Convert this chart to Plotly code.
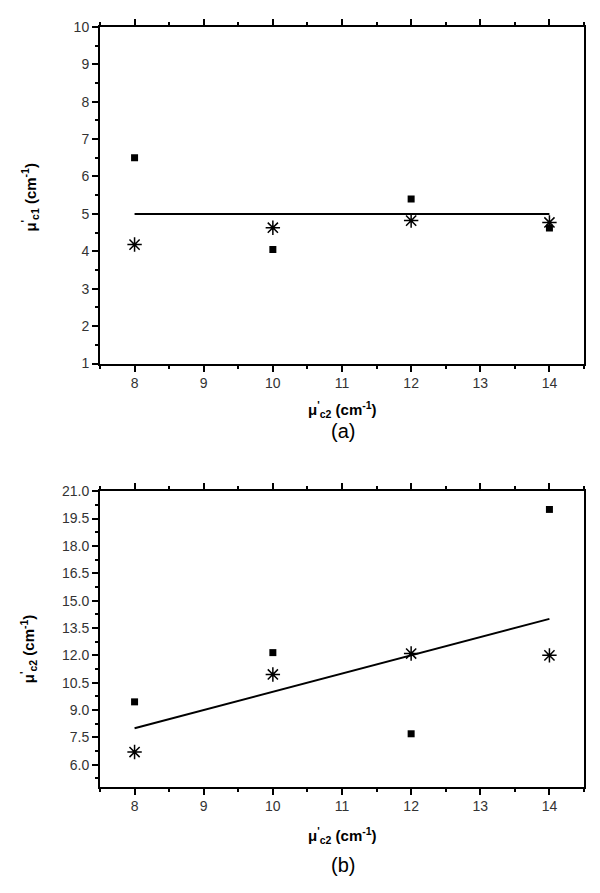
import plotly.graph_objects as go

# ---- data ----
x_vals = [8, 10, 12, 14]
a_squares = [6.5, 4.05, 5.4, 4.62]
a_stars = [4.18, 4.63, 4.82, 4.77]
a_line_x = [8, 14]
a_line_y = [5, 5]

b_squares = [9.45, 12.15, 7.7, 20.0]
b_stars = [6.7, 10.95, 12.1, 12.0]
b_line_x = [8, 14]
b_line_y = [8, 14]

x_ticks = [8, 9, 10, 11, 12, 13, 14]
a_y_ticks = [1, 2, 3, 4, 5, 6, 7, 8, 9, 10]
b_y_ticks = [6.0, 7.5, 9.0, 10.5, 12.0, 13.5, 15.0, 16.5, 18.0, 19.5, 21.0]
b_y_ticklabels = ["6.0", "7.5", "9.0", "10.5", "12.0", "13.5", "15.0", "16.5", "18.0", "19.5", "21.0"]

# page has an 8px body margin; size the figure so it fits the 600x893 window
OFF = 8
W, H = 600 - 2 * OFF, 893 - 2 * OFF
def fy(px):
    return 1 - (px - OFF) / H
def fx(px):
    return (px - OFF) / W

fig = go.Figure()

sq = dict(symbol="square", size=7, color="black")
st = dict(symbol="asterisk-open", size=12, color="black", line=dict(color="black", width=1.5))

fig.add_trace(go.Scatter(x=x_vals, y=a_squares, mode="markers", marker=sq, xaxis="x", yaxis="y"))
fig.add_trace(go.Scatter(x=x_vals, y=a_stars, mode="markers", marker=st, xaxis="x", yaxis="y"))
fig.add_trace(go.Scatter(x=a_line_x, y=a_line_y, mode="lines", line=dict(color="black", width=2), xaxis="x", yaxis="y"))

fig.add_trace(go.Scatter(x=x_vals, y=b_squares, mode="markers", marker=sq, xaxis="x2", yaxis="y2"))
fig.add_trace(go.Scatter(x=x_vals, y=b_stars, mode="markers", marker=st, xaxis="x2", yaxis="y2"))
fig.add_trace(go.Scatter(x=b_line_x, y=b_line_y, mode="lines", line=dict(color="black", width=2), xaxis="x2", yaxis="y2"))

tickfont = dict(family="Liberation Sans, Arial, sans-serif", size=14, color="#333")

def xaxis(domain, anchor):
    return dict(domain=domain, anchor=anchor, range=[7.5, 14.5], tickvals=x_ticks,
                ticks="outside", ticklen=6, tickwidth=1.5, tickcolor="black",
                showline=True, linecolor="black", linewidth=2, mirror="ticks",
                showgrid=False, zeroline=False, tickfont=tickfont,
                minor=dict(dtick=0.5, ticks="outside", ticklen=3, tickwidth=1.5, tickcolor="black", showgrid=False))

def yaxis(domain, anchor, rng, tv, tt, minor_dtick):
    return dict(domain=domain, anchor=anchor, range=rng, tickvals=tv, ticktext=tt,
                ticks="outside", ticklen=6, tickwidth=1.5, tickcolor="black",
                showline=True, linecolor="black", linewidth=2, mirror=True,
                showgrid=False, zeroline=False, tickfont=tickfont,
                minor=dict(tick0=tv[0], dtick=minor_dtick, ticks="outside", ticklen=3, tickwidth=1.5, tickcolor="black", showgrid=False))

xdom = [fx(100), fx(584)]
fig.update_layout(
    width=W, height=H, margin=dict(l=0, r=0, t=0, b=0),
    paper_bgcolor="white", plot_bgcolor="white", showlegend=False,
    xaxis=xaxis(xdom, "y"),
    yaxis=yaxis([fy(362), fy(19)], "x", [1, 10], a_y_ticks, [str(v) for v in a_y_ticks], 0.5),
    xaxis2=xaxis(xdom, "y2"),
    yaxis2=yaxis([fy(793), fy(492)], "x2", [4.8, 21.0], b_y_ticks, b_y_ticklabels, 0.75),
)

tf = dict(family="Liberation Sans, Arial, sans-serif", size=15, color="black")
lab = dict(family="Liberation Sans, Arial, sans-serif", size=20, color="black")
t_c1 = "<b>μ<sup>'</sup><sub>c1</sub> (cm<sup>-1</sup>)</b>"
t_c2 = "<b>μ<sup>'</sup><sub>c2</sub> (cm<sup>-1</sup>)</b>"
def A(text, x, y, font, angle=0):
    return dict(text=text, x=fx(x), y=fy(y), xref="paper", yref="paper", showarrow=False,
                font=font, textangle=angle, xanchor="center", yanchor="middle")
ann = [
    A(t_c2, 342, 409, tf),
    A("(a)", 343, 431, lab),
    A(t_c1, 30, 193, tf, -90),
    A(t_c2, 342, 843, tf),
    A("(b)", 343, 873, lab),
    A(t_c2, 28, 653, tf, -90),
]
fig.update_layout(annotations=ann)

fig.write_html("out.html")
